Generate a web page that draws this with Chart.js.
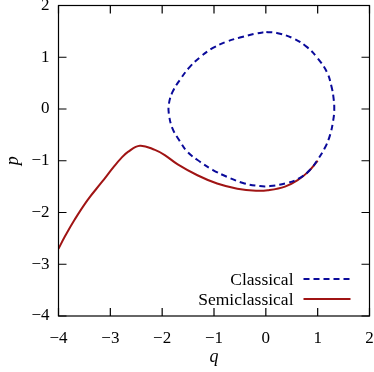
<!DOCTYPE html>
<html>
<head>
<meta charset="utf-8">
<script src="https://cdn.jsdelivr.net/npm/chart.js@4"></script>
<style>
  html, body { margin: 0; padding: 0; background: #fff; }
  #wrap { width: 374px; height: 372px; }
</style>
</head>
<body>
<div id="wrap"><canvas id="chart" width="374" height="372"></canvas></div>
<script>
// Classical orbit (closed curve, starts and ends at the top)
const classicalQ = [0.01, 0.21, 0.52, 0.79, 1.00, 1.18, 1.27, 1.31, 1.32, 1.30, 1.24, 1.14, 1.00, 0.85, 0.66, 0.41, 0.08,
  -0.12, -0.44, -0.75, -1.02, -1.27, -1.51, -1.66, -1.80, -1.87, -1.87, -1.80, -1.66, -1.47, -1.27, -1.02, -0.76, -0.50, -0.18, 0.01];
const classicalP = [1.49, 1.47, 1.37, 1.20, 0.98, 0.71, 0.42, 0.18, -0.02, -0.22, -0.50, -0.75, -0.98, -1.18, -1.33, -1.43, -1.49,
  -1.49, -1.43, -1.31, -1.18, -1.02, -0.83, -0.62, -0.38, -0.10, 0.10, 0.33, 0.56, 0.81, 1.00, 1.18, 1.30, 1.38, 1.46, 1.49];

// Semiclassical trajectory
const semiQ = [-4.00, -3.88, -3.69, -3.44, -3.17, -2.92, -2.79, -2.66, -2.43, -2.14, -1.95, -1.70, -1.32, -0.94, -0.55, -0.19, 0.04, 0.37, 0.62, 0.81, 1.00];
const semiP = [-2.70, -2.47, -2.14, -1.76, -1.42, -1.10, -0.95, -0.83, -0.71, -0.79, -0.89, -1.07, -1.28, -1.44, -1.54, -1.58, -1.57, -1.50, -1.37, -1.22, -1.00];

const axisMin = -4;
const axisMax = 2;
const labels = ["Classical", "Semiclassical"];

const FONT = '"Liberation Serif", "Times New Roman", serif';
const BLUE = "#0a0a9a";
const RED = "#a01414";

const toPts = (xs, ys) => xs.map((x, i) => ({ x: x, y: ys[i] }));
const minus = (v) => (v < 0 ? "\u2212" + Math.abs(v) : String(v));

// drop the extra room chart.js keeps for the end labels
const noPad = (s) => {
  s.paddingLeft = 0; s.paddingRight = 0; s.paddingTop = 0; s.paddingBottom = 0;
};

// frame + inward ticks on all four sides, and the legend in the lower right
const framePlugin = {
  id: "frame",
  afterDraw(chart) {
    const { ctx, chartArea: a, scales } = chart;
    const len = 8;
    ctx.save();
    ctx.strokeStyle = "#000";
    ctx.lineWidth = 1.2;
    ctx.strokeRect(a.left, a.top, a.right - a.left, a.bottom - a.top);
    ctx.beginPath();
    scales.x.ticks.forEach((t) => {
      const px = scales.x.getPixelForValue(t.value);
      ctx.moveTo(px, a.bottom); ctx.lineTo(px, a.bottom - len);
      ctx.moveTo(px, a.top); ctx.lineTo(px, a.top + len);
    });
    scales.y.ticks.forEach((t) => {
      const py = scales.y.getPixelForValue(t.value);
      ctx.moveTo(a.left, py); ctx.lineTo(a.left + len, py);
      ctx.moveTo(a.right, py); ctx.lineTo(a.right - len, py);
    });
    ctx.stroke();

    // legend
    ctx.font = "17.5px " + FONT;
    ctx.fillStyle = "#000";
    ctx.textAlign = "right";
    ctx.textBaseline = "middle";
    chart.data.datasets.forEach((ds, i) => {
      const y = a.bottom - 37 + i * 20;
      ctx.fillText(ds.label, a.right - 76, y + 1);
      ctx.strokeStyle = ds.borderColor;
      ctx.lineWidth = ds.borderWidth;
      ctx.setLineDash(ds.borderDash || []);
      ctx.beginPath();
      ctx.moveTo(a.right - 66, y);
      ctx.lineTo(a.right - 19, y);
      ctx.stroke();
      ctx.setLineDash([]);
    });
    ctx.restore();
  },
};

new Chart(document.getElementById("chart"), {
  type: "scatter",
  data: {
    datasets: [
      {
        label: labels[0],
        data: toPts(classicalQ, classicalP),
        showLine: true,
        borderColor: BLUE,
        borderWidth: 2,
        borderDash: [6, 4],
        tension: 0.4,
        pointRadius: 0,
      },
      {
        label: labels[1],
        data: toPts(semiQ, semiP),
        showLine: true,
        borderColor: RED,
        borderWidth: 2,
        tension: 0.4,
        pointRadius: 0,
      },
    ],
  },
  options: {
    responsive: false,
    animation: false,
    layout: { padding: { top: 5.5, right: 4.5, left: 0, bottom: 0 } },
    plugins: { legend: { display: false }, tooltip: { enabled: false } },
    scales: {
      x: {
        type: "linear",
        min: axisMin,
        max: axisMax,
        afterFit: (s) => { s.height = 56; noPad(s); },
        grid: { display: false, drawTicks: false },
        border: { display: false },
        ticks: { stepSize: 1, padding: 12, color: "#000", font: { family: FONT, size: 17 }, callback: minus },
        title: { display: true, text: "q", color: "#000", padding: { top: 0, bottom: 4 }, font: { family: FONT, size: 18, style: "italic" } },
      },
      y: {
        type: "linear",
        min: axisMin,
        max: axisMax,
        afterFit: (s) => { s.width = 58.5; noPad(s); },
        grid: { display: false, drawTicks: false },
        border: { display: false },
        ticks: { stepSize: 1, padding: 9, color: "#000", font: { family: FONT, size: 17 }, callback: minus },
        title: { display: true, text: "p", color: "#000", padding: { top: 2, bottom: 0 }, font: { family: FONT, size: 18, style: "italic" } },
      },
    },
  },
  plugins: [framePlugin],
});
</script>
</body>
</html>
